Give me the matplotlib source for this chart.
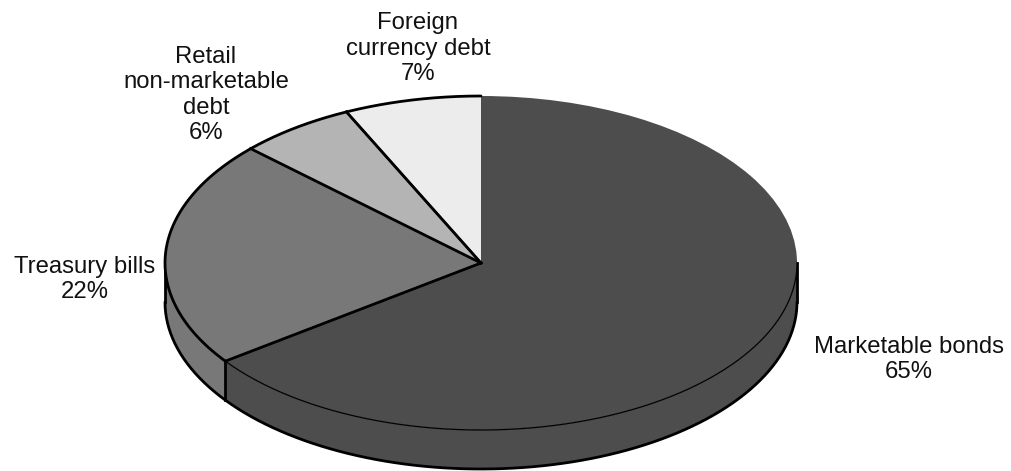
import numpy as np
import matplotlib
matplotlib.use("Agg")
import matplotlib.pyplot as plt
from matplotlib.patches import Polygon

# ---- data ----
categories = ["Marketable bonds", "Treasury bills",
              "Retail\nnon-marketable\ndebt", "Foreign\ncurrency debt"]
values = [65, 22, 6, 7]
pct_labels = ["65%", "22%", "6%", "7%"]

# ---- style / layout ----
colors = ["#4d4d4d", "#787878", "#b4b4b4", "#ececec"]
W, H = 1012, 471
cx, cy, a, b = 481, 263, 316, 167          # ellipse centre & semi-axes (px)
depth = 39 / b                              # thickness in data units
label_pos = [(909, 378), (85, 298), (206, 139), (418, 80)]  # centre x, last baseline (px)
thick, thin = 2.0, 0.9
plt.rcParams['font.family'] = ['Liberation Sans', 'DejaVu Sans']

fig = plt.figure(figsize=(W / 100, H / 100), dpi=100)
ax = fig.add_axes([0, 0, 1, 1])
wedges, _ = ax.pie(values, colors=colors, startangle=90, counterclock=False,
                   radius=1, center=(0, 0), frame=True,
                   wedgeprops=dict(edgecolor='none', linewidth=0))
ax.set_aspect('auto')
ax.set_xlim(-cx / a, (W - cx) / a)
ax.set_ylim((cy - H) / b, cy / b)
ax.axis('off')
for w in wedges:
    w.set_zorder(3)


def arc(t1, t2, n=200, dy=0.0):
    t = np.radians(np.linspace(t1, t2, n))
    return np.cos(t), np.sin(t) + dy


# ---- side walls (front half: angles -180..0) ----
for w, col in zip(wedges, colors):
    lo, hi = max(w.theta1, -180), min(w.theta2, 0)
    if hi > lo:
        x1, y1 = arc(lo, hi)
        x2, y2 = arc(hi, lo, dy=-depth)
        poly = Polygon(np.column_stack([np.r_[x1, x2], np.r_[y1, y2]]),
                       closed=True, facecolor=col, edgecolor='none', zorder=1)
        ax.add_patch(poly)

# bottom outline of the wall
bx, by = arc(-180, 0, dy=-depth)
ax.plot(bx, by, color='black', lw=thick, zorder=2, solid_capstyle='round')

# vertical wall edges at the extremes and at slice boundaries in front
front_edges = [-180, 0] + [w.theta1 for w in wedges if -180 < w.theta1 < 0]
for ang in front_edges:
    x0 = np.cos(np.radians(ang))
    y0 = np.sin(np.radians(ang))
    ax.plot([x0, x0], [y0, y0 - depth], color='black', lw=thick, zorder=2)

# ---- top face outlines ----
main = wedges[0]
# thin outer edge of the large slice on the front
mx, my = arc(main.theta1, 0)
ax.plot(mx, my, color='black', lw=thin, zorder=4)
# thick outer edge of the other slices
for w in wedges[1:]:
    ox, oy = arc(w.theta1, w.theta2)
    ax.plot(ox, oy, color='black', lw=thick, zorder=4, solid_capstyle='round')
# radial lines
for i, w in enumerate(wedges):
    ang = np.radians(w.theta1 if i == 0 else w.theta2)
    lw = thin if i == 0 else thick
    if i == 3:
        lw = 1.6
    ax.plot([0, np.cos(ang)], [0, np.sin(ang)], color='black', lw=lw, zorder=4)
for w in wedges[2:3]:
    ang = np.radians(w.theta1)
    ax.plot([0, np.cos(ang)], [0, np.sin(ang)], color='black', lw=thick, zorder=4)

# ---- labels ----
for cat, pct, (px, py) in zip(categories, pct_labels, label_pos):
    fig.text(px / W, 1 - py / H, f"{cat}\n{pct}", ha='center', va='baseline',
             multialignment='center', fontsize=17.2, color='#111111')

fig.savefig("out.png", dpi=100)
